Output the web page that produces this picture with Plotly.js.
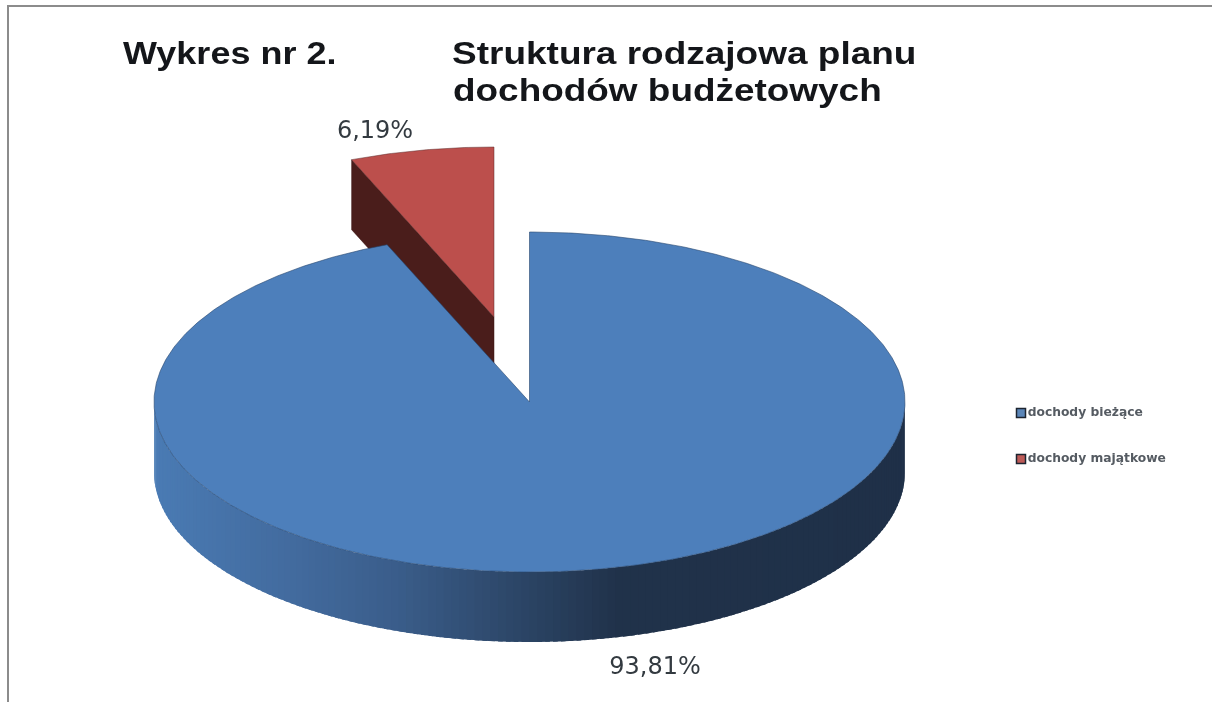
<!DOCTYPE html>
<html>
<head>
<meta charset="utf-8">
<script src="https://cdn.plot.ly/plotly-3.0.1.min.js"></script>
<style>
html,body{margin:0;padding:0;background:#fff}
#chart{width:1212px;height:702px;filter:blur(0.5px)}
#chart .annotation text{transform-box:fill-box;transform-origin:left center}
#chart .annotation[data-index="0"] text{transform:scaleX(1.125)}
#chart .annotation[data-index="1"] text{transform:scaleX(1.156)}
#chart .annotation[data-index="2"] text{transform:scaleX(1.154)}
</style>
</head>
<body>
<div id="chart"></div>
<script>
// Data
var categories = ['dochody bieżące', 'dochody majątkowe'];
var values = [93.81, 6.19];
var titleLeft = 'Wykres nr 2.';
var titleRight = ['Struktura rodzajowa planu', 'dochodów budżetowych'];

// Projection of the 3D pie onto the page
var cx = 529.5, cy = 402, rx = 375.5, ry = 170, depth = 70;
var explodeX = -35.5, explodeY = -85;
var total = values[0] + values[1];
var blueEnd = 360 * values[0] / total;

function px(deg, ox) { return cx + (ox || 0) + rx * Math.sin(deg * Math.PI / 180); }
function py(deg, oy) { return cy + (oy || 0) - ry * Math.cos(deg * Math.PI / 180); }
function arc(from, to, ox, oy, dy) {
  var xs = [], ys = [], n = Math.max(2, Math.ceil(Math.abs(to - from) * 2));
  for (var i = 0; i <= n; i++) {
    var d = from + (to - from) * i / n;
    xs.push(px(d, ox)); ys.push(py(d, oy) + (dy || 0));
  }
  return {x: xs, y: ys};
}
function poly(xs, ys, fill, line, width) {
  return {type: 'scatter', mode: 'lines', x: xs, y: ys, fill: 'toself', fillcolor: fill,
    line: {color: line || fill, width: width === undefined ? 0 : width},
    hoverinfo: 'skip', showlegend: false};
}

var stops = [[154,[74,123,180]],[300,[66,106,157]],[400,[58,93,138]],[530,[43,68,100]],[620,[32,50,74]],[905,[31,48,72]]];
function wallColor(x) {
  for (var i = 1; i < stops.length; i++) {
    if (x <= stops[i][0]) {
      var a = stops[i-1], b = stops[i], t = Math.max(0, (x - a[0]) / (b[0] - a[0]));
      return 'rgb(' + [0,1,2].map(function(k){ return Math.round(a[1][k] + (b[1][k]-a[1][k]) * t); }).join(',') + ')';
    }
  }
  return 'rgb(31,48,72)';
}

var traces = [];

// Exploded red slice: radial wall, then top
var apexX = cx + explodeX, apexY = cy + explodeY;
var cornerX = px(blueEnd, explodeX), cornerY = py(blueEnd, explodeY);
traces.push(poly([apexX, cornerX, cornerX, apexX, apexX], [apexY, cornerY, cornerY + depth, apexY + depth, apexY], '#4a1d1b', '#3a1513', 0.5));
var redArc = arc(blueEnd, 360, explodeX, explodeY);
traces.push(poly([apexX].concat(redArc.x, [apexX]), [apexY].concat(redArc.y, [apexY]), '#bc4f4c', '#5a2a2a', 0.5));

// Blue side wall, shaded front half
var segs = 150;
for (var s = 0; s < segs; s++) {
  var a0 = 270 - 180 * s / segs, a1 = 270 - 180 * (s + 1.6) / segs;
  if (a1 < 90) a1 = 90;
  var upper = arc(a0, a1, 0, 0), lower = arc(a1, a0, 0, 0, depth);
  var midX = (px(a0) + px(a1)) / 2;
  traces.push(poly(upper.x.concat(lower.x, [upper.x[0]]), upper.y.concat(lower.y, [upper.y[0]]), wallColor(midX)));
}

// Blue top
var blueArc = arc(0, blueEnd, 0, 0);
traces.push(poly([cx].concat(blueArc.x, [cx]), [cy].concat(blueArc.y, [cy]), '#4d7fbb', '#27466f', 0.6));

// Percentage labels
function fmt(v) { return v.toFixed(2).replace('.', ',') + '%'; }
traces.push({type: 'scatter', mode: 'text', x: [655, 375], y: [668, 132], text: [fmt(values[0]), fmt(values[1])],
  textposition: 'middle center', textfont: {family: 'DejaVu Sans', size: 24, color: '#333a40'},
  hoverinfo: 'skip', showlegend: false});

// Legend keys
var legendColors = ['#5b86b8', '#bd5a57'], legendY = [413, 459];
categories.forEach(function(c, i) {
  traces.push({type: 'scatter', mode: 'markers+text', name: c, x: [1021], y: [legendY[i]], text: [c],
    textposition: 'middle right',
    textfont: {family: 'DejaVu Sans', size: 12.3, weight: 'bold', color: '#555b62'},
    marker: {symbol: 'square', size: 9, color: legendColors[i], line: {color: '#1c2430', width: 1.5}},
    hoverinfo: 'skip', showlegend: false});
});

function ann(text, x, y, size) {
  return {text: text, x: x, y: y, xref: 'x', yref: 'y', xanchor: 'left', yanchor: 'middle', showarrow: false,
    font: {family: 'Liberation Sans', size: size, weight: 'bold', color: '#14161a'}};
}

var layout = {
  width: 1212, height: 702,
  margin: {l: 0, r: 0, t: 0, b: 0},
  paper_bgcolor: '#fff', plot_bgcolor: '#fff',
  showlegend: false,
  xaxis: {range: [0, 1212], visible: false, fixedrange: true},
  yaxis: {range: [702, 0], visible: false, fixedrange: true},
  annotations: [ann(titleLeft, 121, 53, 32), ann(titleRight[0], 450, 53, 32), ann(titleRight[1], 451, 90, 32)],
  shapes: [
    {type: 'line', xref: 'x', yref: 'y', x0: 7, x1: 1212, y0: 6, y1: 6, line: {color: '#8c8c8c', width: 2}},
    {type: 'line', xref: 'x', yref: 'y', x0: 8, x1: 8, y0: 5, y1: 702, line: {color: '#8c8c8c', width: 2}}
  ]
};
Plotly.newPlot('chart', traces, layout, {displayModeBar: false, staticPlot: true});
</script>
</body>
</html>
